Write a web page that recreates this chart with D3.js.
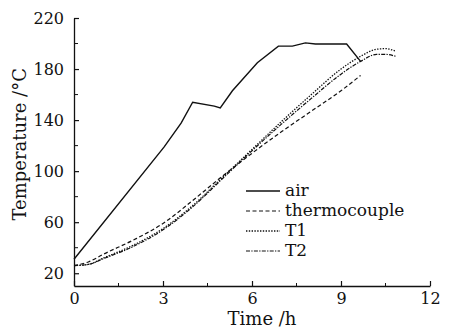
<!DOCTYPE html>
<html>
<head>
<meta charset="utf-8">
<script src="https://cdn.jsdelivr.net/npm/d3@7"></script>
<style>
  body { margin: 0; background: #fff; }
  svg text { font-family: "DejaVu Serif", "Liberation Serif", serif; fill: #111; }
</style>
</head>
<body>
<div id="chart"></div>
<script>
// time (h) / temperature (°C)
var airTime   = [0, 3.04, 3.61, 4.0, 4.73, 4.93, 5.34, 6.18, 6.89, 7.36, 7.8, 8.14, 9.19, 9.66];
var airTemp   = [31, 119, 137.6, 154, 151, 149.5, 163, 185, 198, 198, 200.5, 199.6, 199.6, 186];
var tcTime    = [0, 0.5, 1, 2, 3, 4, 5, 6, 7, 8, 9, 9.66];
var tcTemp    = [26, 29, 35, 46, 59, 77, 96, 114, 131, 147, 163, 175];
var t1Time    = [0, 0.5, 1, 2, 3, 4, 5, 6, 7, 8, 9, 9.66, 10.2, 10.5, 10.84];
var t1Temp    = [26, 27, 32, 42, 55, 73, 95, 117, 139, 160, 180, 190, 195.5, 196, 194];
var t2Time    = [0, 0.5, 1, 2, 3, 4, 5, 6, 7, 8, 9, 9.66, 10.2, 10.5, 10.84];
var t2Temp    = [26, 27, 31.5, 41, 54, 72, 94, 116, 137, 157, 176, 186, 191.5, 191.5, 190];
var seriesNames = ["air", "thermocouple", "T1", "T2"];
var xTicks = [0, 3, 6, 9, 12];
var yTicks = [20, 60, 100, 140, 180, 220];

var width = 454, height = 330;
var margin = {top: 18, right: 24, bottom: 44, left: 74};
var chartWidth = width - margin.left - margin.right,
    chartHeight = height - margin.top - margin.bottom;

var svg = d3.select("#chart").append("svg")
    .attr("width", width)
    .attr("height", height);

var chart = svg.append("g")
    .attr("transform", "translate(" + margin.left + "," + margin.top + ")");

var x = d3.scaleLinear().domain([0, 12]).range([0, chartWidth]);
var y = d3.scaleLinear().domain([10, 220]).range([chartHeight, 0]);

function zip(a, b) { return a.map(function(d, i) { return {x: d, y: b[i]}; }); }

var series = [
  {key: "air", values: zip(airTime, airTemp), dash: null, width: 1.4, curve: d3.curveLinear},
  {key: "thermocouple", values: zip(tcTime, tcTemp), dash: "4,2.5", width: 1.2, curve: d3.curveMonotoneX},
  {key: "T1", values: zip(t1Time, t1Temp), dash: "1.4,1.4", width: 1.3, curve: d3.curveMonotoneX},
  {key: "T2", values: zip(t2Time, t2Temp), dash: "4,1.3,1.3,1.3", width: 1.2, curve: d3.curveMonotoneX}
];

// axes, ticks pointing inward
var xAxis = d3.axisBottom(x).tickValues(xTicks).tickSize(-5).tickPadding(7).tickSizeOuter(0);
var yAxis = d3.axisLeft(y).tickValues(yTicks).tickSize(-5).tickPadding(10).tickSizeOuter(0);

var gx = chart.append("g")
    .attr("class", "xAxis")
    .attr("transform", "translate(0," + chartHeight + ")")
    .call(xAxis);
var gy = chart.append("g")
    .attr("class", "yAxis")
    .call(yAxis);

[gx, gy].forEach(function(g) {
  g.select(".domain").attr("stroke", "#111").attr("stroke-width", 1.3);
  g.selectAll(".tick line").attr("stroke", "#111").attr("stroke-width", 1.2);
  g.selectAll(".tick text").attr("font-size", 16).attr("font-family", "DejaVu Serif").attr("fill", "#111");
});

// minor ticks
chart.append("g").selectAll("line")
  .data([1.5, 4.5, 7.5, 10.5])
  .enter().append("line")
    .attr("x1", function(d) { return x(d); })
    .attr("x2", function(d) { return x(d); })
    .attr("y1", chartHeight)
    .attr("y2", chartHeight - 3)
    .attr("stroke", "#111");

chart.append("g").selectAll("line")
  .data([40, 80, 120, 160, 200])
  .enter().append("line")
    .attr("x1", 0)
    .attr("x2", 4)
    .attr("y1", function(d) { return y(d); })
    .attr("y2", function(d) { return y(d); })
    .attr("stroke", "#111");

// lines
series.forEach(function(s) {
  var line = d3.line()
      .x(function(d) { return x(d.x); })
      .y(function(d) { return y(d.y); })
      .curve(s.curve);
  chart.append("path")
    .attr("fill", "none")
    .attr("stroke", "#111")
    .attr("stroke-width", s.width)
    .attr("stroke-dasharray", s.dash)
    .attr("d", line(s.values));
});

// axis titles
svg.append("text")
  .attr("x", margin.left + x(6) + 10)
  .attr("y", 325)
  .attr("text-anchor", "middle")
  .attr("font-size", 18)
  .text("Time /h");

svg.append("text")
  .attr("transform", "translate(26," + (margin.top + y(121)) + ") rotate(-90)")
  .attr("text-anchor", "middle")
  .attr("font-size", 18)
  .text("Temperature /\u00B0C");

// legend
var legend = svg.append("g").attr("transform", "translate(246,191)");
var item = legend.selectAll("g")
  .data(series)
  .enter().append("g")
    .attr("transform", function(d, i) { return "translate(0," + (i * 20) + ")"; });

item.append("line")
  .attr("x1", 0).attr("x2", 34)
  .attr("stroke", "#111")
  .attr("stroke-width", function(d) { return d.width; })
  .attr("stroke-dasharray", function(d) { return d.dash; });

item.append("text")
  .attr("x", 39)
  .attr("y", 5)
  .attr("font-size", 17)
  .text(function(d, i) { return seriesNames[i]; });
</script>
</body>
</html>
